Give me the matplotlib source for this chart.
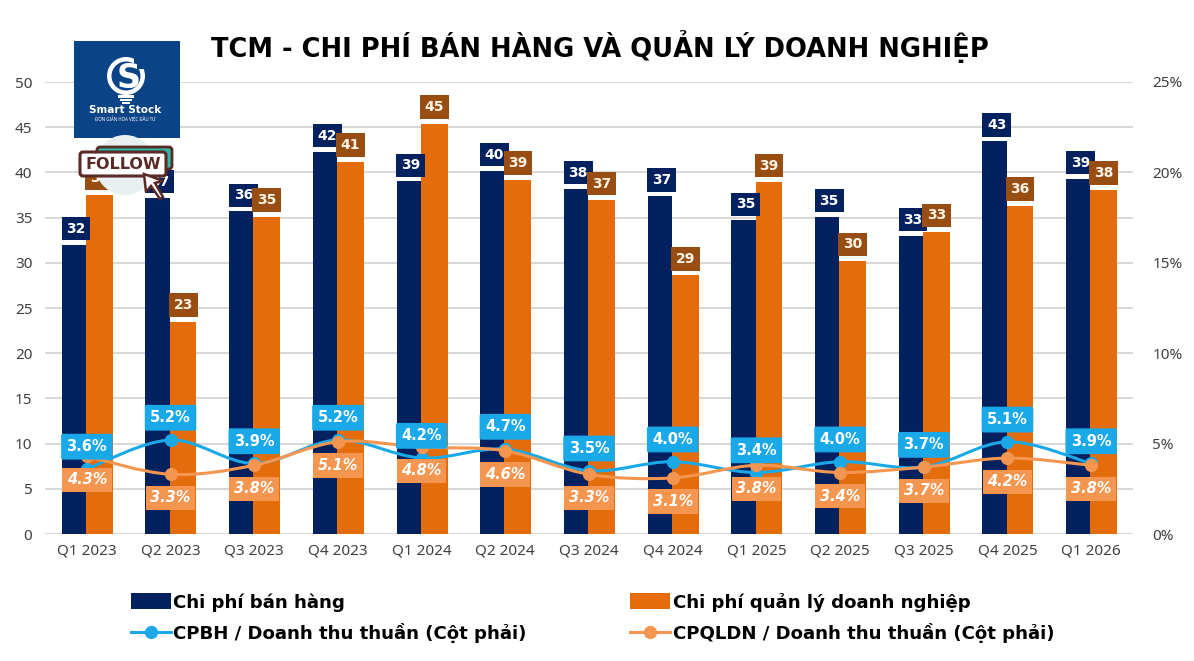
import matplotlib
matplotlib.use("Agg")
import matplotlib.pyplot as plt
from matplotlib.path import Path
from matplotlib.patches import PathPatch, Rectangle, Circle, FancyBboxPatch, Polygon, Wedge
from matplotlib.lines import Line2D
from matplotlib.ticker import FuncFormatter
import numpy as np

quarters = ["Q1 2023", "Q2 2023", "Q3 2023", "Q4 2023", "Q1 2024", "Q2 2024", "Q3 2024",
            "Q4 2024", "Q1 2025", "Q2 2025", "Q3 2025", "Q4 2025", "Q1 2026"]
selling_cost = [32.0, 37.2, 35.7, 42.3, 39.0, 40.2, 38.2, 37.4, 34.7, 35.1, 33.0, 43.49, 39.3]
admin_cost = [37.5, 23.49, 35.1, 41.2, 45.4, 39.2, 36.9, 28.6, 38.9, 30.2, 33.4, 36.3, 38.1]
selling_ratio = [3.6, 5.2, 3.9, 5.2, 4.2, 4.7, 3.5, 4.0, 3.4, 4.0, 3.7, 5.1, 3.9]
admin_ratio = [4.3, 3.3, 3.8, 5.1, 4.8, 4.6, 3.3, 3.1, 3.8, 3.4, 3.7, 4.2, 3.8]

NAVY = "#03205F"
ORANGE = "#E46C0A"
BROWN = "#984E12"
BLUE = "#1AA9E8"
PEACH = "#F4964F"
GRID = "#D9D9D9"
TICK = "#404040"
UI = "Noto Sans"
BOLD = "DejaVu Sans"

W, H = 1194, 661
fig = plt.figure(figsize=(W / 100, H / 100), dpi=100, facecolor="white")
ax = fig.add_axes([45 / W, 1 - 534 / H, (1133 - 45) / W, (534 - 82) / H])
ax2 = ax.twinx()

x = np.arange(len(quarters))
navy_w = 0.29
orange_w = 0.32
ax.set_xlim(-0.5, len(quarters) - 0.5)
ax.set_ylim(0, 50)
ax2.set_ylim(0, 25)
ax.set_yticks(range(0, 51, 5))
ax2.set_yticks(range(0, 26, 5))
ax2.yaxis.set_major_formatter(FuncFormatter(lambda v, _: f"{v:.0f}%"))
ax.set_xticks(x, quarters)
ax.grid(axis="y", color=GRID, lw=1.5)
ax.set_axisbelow(True)
for a in (ax, ax2):
    for s in a.spines.values():
        s.set_visible(False)
    a.tick_params(length=0, labelsize=11, labelcolor=TICK)
    for t in a.get_xticklabels() + a.get_yticklabels():
        t.set_fontfamily(UI)
ax.tick_params(axis="x", pad=7)
ax.tick_params(axis="y", pad=9)
ax2.tick_params(axis="y", pad=14)

navy_x = x - 0.01 - navy_w / 2
orange_x = x - 0.01 + orange_w / 2
ax.bar(navy_x, selling_cost, navy_w, color=NAVY, zorder=2)
ax.bar(orange_x, admin_cost, orange_w, color=ORANGE, zorder=2)


def smooth_path(xs, ys, k=1 / 6):
    """Cubic Bezier through the points, in the spirit of a spreadsheet's smoothed line."""
    pts = np.column_stack([xs, ys])
    verts, codes = [pts[0]], [Path.MOVETO]
    for i in range(len(pts) - 1):
        prev_p = pts[max(i - 1, 0)]
        next_p = pts[min(i + 2, len(pts) - 1)]
        verts += [pts[i] + (pts[i + 1] - prev_p) * k,
                  pts[i + 1] - (next_p - pts[i]) * k,
                  pts[i + 1]]
        codes += [Path.CURVE4] * 3
    return Path(verts, codes)


for series, color, z in ((selling_ratio, BLUE, 4), (admin_ratio, PEACH, 5)):
    ax2.add_patch(PathPatch(smooth_path(x, series), fc="none", ec=color, lw=2.2, zorder=z))
    ax2.plot(x, series, ls="none", marker="o", ms=8.5, color=color, zorder=z)

# Cost labels sit just above their bars
for xi, v in zip(navy_x, selling_cost):
    ax2.annotate(f"{v:.0f}", (xi, v / 2), xytext=(1.5, 11.5), textcoords="offset points",
                 ha="center", va="center", color="white", fontsize=10, fontweight="bold",
                 family=BOLD, zorder=6,
                 bbox=dict(boxstyle="square,pad=0.34", fc=NAVY, ec="none"))
for xi, v in zip(orange_x, admin_cost):
    ax2.annotate(f"{v:.0f}", (xi, v / 2), xytext=(0, 12), textcoords="offset points",
                 ha="center", va="center", color="#FFF4E6", fontsize=10, fontweight="bold",
                 family=BOLD, zorder=7,
                 bbox=dict(boxstyle="square,pad=0.34", fc=BROWN, ec="none"))

# Ratio labels: selling above its point, admin below
for xi, v in zip(x, selling_ratio):
    ax2.annotate(f"{v:.1f}%", (xi, v), xytext=(0, 16), textcoords="offset points",
                 ha="center", va="center", color="white", fontsize=10.5, fontweight="bold",
                 family=BOLD, zorder=8,
                 bbox=dict(boxstyle="round,pad=0.37,rounding_size=0.12", fc=BLUE, ec="none"))
for xi, v in zip(x, admin_ratio):
    ax2.annotate(f"{v:.1f}%", (xi, v), xytext=(0, -17), textcoords="offset points",
                 ha="center", va="center", color="white", fontsize=10.5, fontweight="bold",
                 fontstyle="italic", family=BOLD, zorder=8,
                 bbox=dict(boxstyle="square,pad=0.32", fc=PEACH, ec="none"))

ax.set_zorder(1)
ax2.set_zorder(2)

fig.text(600 / W, 1 - 47 / H, "TCM - CHI PHÍ BÁN HÀNG VÀ QUẢN LÝ DOANH NGHIỆP",
         ha="center", va="center", fontsize=18.5, fontweight="bold", family="DejaVu Sans", color="black")

legend_font = dict(family=BOLD, weight="bold", size=13.1)
handles = [Rectangle((0, 0), 1, 1, fc=NAVY),
           Line2D([], [], color=BLUE, lw=2.2, marker="o", ms=8.5),
           Rectangle((0, 0), 1, 1, fc=ORANGE),
           Line2D([], [], color=PEACH, lw=2.2, marker="o", ms=8.5)]
labels = ["Chi phí bán hàng", "CPBH / Doanh thu thuần (Cột phải)",
          "Chi phí quản lý doanh nghiệp", "CPQLDN / Doanh thu thuần (Cột phải)"]
fig.legend(handles, labels, ncol=2, loc="upper left", bbox_to_anchor=(116 / W, 1 - 578 / H),
           frameon=False, prop=legend_font, handlelength=2.2, handleheight=1.0, handletextpad=0.15,
           columnspacing=5.7, labelspacing=0.62, borderpad=0.3)

# Brand badge in the upper left corner, drawn on a pixel-based overlay
ov = fig.add_axes([0, 0, 1, 1], zorder=10, facecolor="none")
ov.set_xlim(0, W)
ov.set_ylim(H, 0)
ov.axis("off")
ov.add_patch(Rectangle((74, 41), 106, 97, fc="#0B4387", ec="none"))
ov.add_patch(Wedge((126, 76), 19, 0, 360, width=4.5, fc="white", ec="none"))
ov.add_patch(Rectangle((134, 57), 14, 12, fc="#0B4387", ec="none"))
ov.text(129, 78, "S", color="white", fontsize=24, fontweight="bold", family=BOLD, ha="center", va="center")
ov.add_patch(Rectangle((118, 95), 16, 3, fc="white"))
ov.add_patch(Rectangle((120, 99), 12, 2, fc="white"))
ov.add_patch(Rectangle((122, 102), 8, 2, fc="white"))
ov.text(125, 110, "Smart Stock", color="white", fontsize=7.6, fontweight="bold", family=BOLD, ha="center", va="center")
ov.text(125, 119, "ĐƠN GIẢN HÓA VIỆC ĐẦU TƯ", color="white", fontsize=3.2, family=UI, ha="center", va="center")

ov.add_patch(Circle((125, 165), 30, fc="#E9F0F2", ec="none", zorder=1))
ov.add_patch(FancyBboxPatch((97, 147), 75, 22, boxstyle="round,pad=0,rounding_size=3",
                            fc="#2FB8A8", ec="#5A2A27", lw=2, zorder=2))
ov.add_patch(FancyBboxPatch((80, 152), 86, 24, boxstyle="round,pad=0,rounding_size=3",
                            fc="white", ec="#5A2A27", lw=2.2, zorder=3))
ov.text(123.5, 164.5, "FOLLOW", color="#5A2A27", fontsize=11.5, fontweight="bold", family=BOLD,
        ha="center", va="center", zorder=4)
ov.add_patch(Polygon([(144, 174), (146, 192), (151, 186), (160, 199), (163, 197), (155, 183), (163, 181)],
                     closed=True, fc="white", ec="#5A2A27", lw=1.8, zorder=5))

fig.savefig("out.png", dpi=100)
